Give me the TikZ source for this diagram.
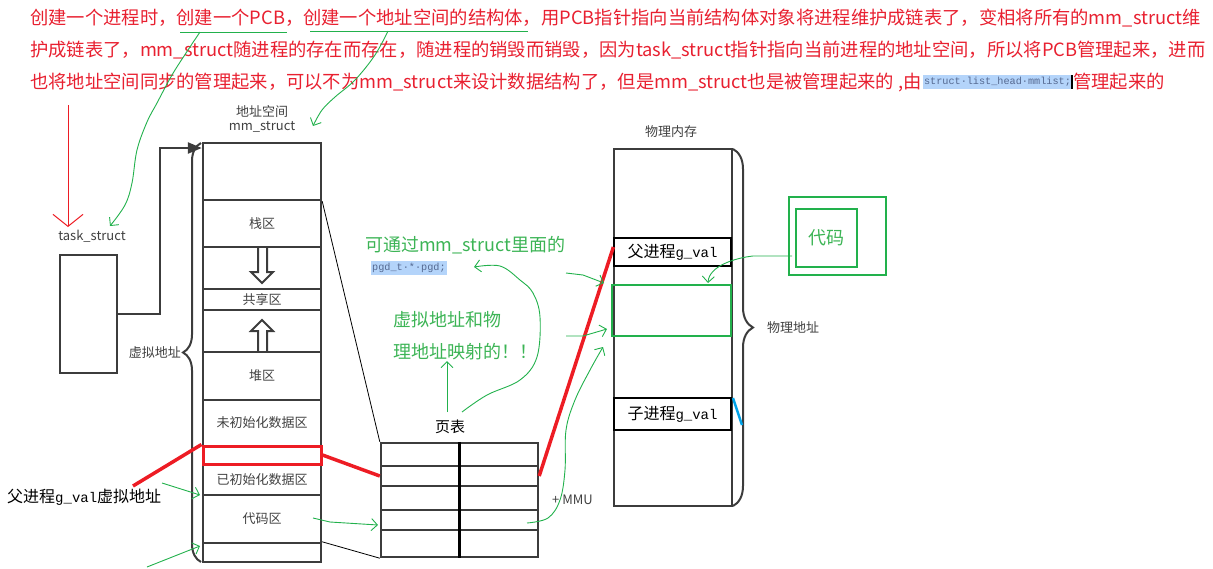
\documentclass[tikz,border=0pt]{standalone}
\usepackage{fontspec}
\setmainfont{Noto Sans CJK SC}
\setmonofont{Liberation Mono}
\usepackage{tikz}
\usetikzlibrary{calc, arrows.meta}
\usetikzlibrary{positioning, decorations.pathreplacing}
\definecolor{tred}{RGB}{232,32,48}
\definecolor{pred}{RGB}{237,28,36}
\definecolor{pgreen}{RGB}{34,177,76}
\definecolor{tgreen}{RGB}{60,180,85}
\definecolor{dgray}{RGB}{60,60,60}
\definecolor{tgray}{RGB}{64,64,64}
\definecolor{hlblue}{RGB}{180,212,250}
\definecolor{codeblue}{RGB}{85,105,145}
\definecolor{pblue}{RGB}{0,162,232}
\newcommand{\gv}{{\ttfamily\fontsize{14}{16}\selectfont g\_val}}

\begin{document}
\begin{tikzpicture}[x=1pt, y=-1pt,
    headline/.style={text=tred, font=\fontsize{18.3}{20}\selectfont, inner sep=0pt, anchor=west},
    seg/.style={draw=dgray, line width=2.4pt, minimum width=118pt, inner sep=0pt, text=tgray, font=\fontsize{13}{15}\selectfont},
    lbl/.style={text=tgray, font=\fontsize{13}{15}\selectfont, inner sep=1pt},
    cell/.style={draw=dgray, line width=2.4pt, minimum width=157pt, inner sep=0pt},
    slot/.style={draw=black, line width=1.2pt, minimum width=117pt, inner sep=0pt, font=\fontsize{16}{18}\selectfont},
    gtext/.style={text=tgreen, font=\fontsize{18}{20}\selectfont, inner sep=0pt, anchor=west},
    codehl/.style={fill=hlblue, text=codeblue, font=\ttfamily\fontsize{10.2}{12}\selectfont, inner xsep=1pt, inner ysep=2pt},
    hand/.style={draw=pgreen, line width=0.9pt, -{Straight Barb[length=6pt,width=12pt]}},
    gline/.style={draw=pgreen, line width=0.9pt},
    redline/.style={draw=pred, line width=3.5pt},
    curly/.style={decorate, decoration={brace, amplitude=#1}, draw=dgray, line width=2pt}]
    \useasboundingbox (0,0) rectangle (1213,568);

    % the note on top
    \node[headline] (line1) at (30,18) {创建一个进程时，创建一个PCB，创建一个地址空间的结构体，用PCB指针指向当前结构体对象将进程维护成链表了，变相将所有的mm\_struct维};
    \node[headline] (line2) at (30,50) {护成链表了，mm\_struct随进程的存在而存在，随进程的销毁而销毁，因为task\_struct指针指向当前进程的地址空间，所以将PCB管理起来，进而};
    \node[headline] (line3) at (30,82) {也将地址空间同步的管理起来，可以不为mm\_struct来设计数据结构了，但是mm\_struct也是被管理起来的 ,由};
    \node[codehl, right=1pt of line3] (mmlist) {struct·list\_head·mmlist;};
    \node[headline, right=1pt of mmlist] (line3b) {管理起来的};
    \draw[black, line width=1.5pt] (mmlist.north east) -- (mmlist.south east);
    \coordinate (u1a) at (180,32);
    \coordinate (u1b) at (287,32);
    \coordinate (u2a) at (310,31);
    \coordinate (u2b) at (528,31);
    \draw[gline] (u1a) -- (u1b);
    \draw[gline] (u2a) -- (u2b);

    % task_struct
    \node[lbl] (tsl) at (92,236) {task\_struct};
    \node[draw=dgray, line width=2.4pt, minimum width=57pt, minimum height=118pt] (tsbox) at (88.5,314) {};
    \coordinate (rtop) at (68,105);
    \coordinate (rtip) at (68,227);
    \draw[pred, line width=1pt, -{Straight Barb[length=12pt,width=30pt]}] (rtop) -- (rtip);

    % address space
    \node[lbl] (asl) at (262,112) {地址空间};
    \node[lbl] (mml) at (262,127) {mm\_struct};
    \node[seg, minimum height=57pt] (topseg) at (262,171.5) {};
    \node[seg, minimum height=47pt] (stack) at (262,223.5) {栈区};
    \node[seg, minimum height=42pt] (gapA) at (262,268) {};
    \node[seg, minimum height=21pt] (shared) at (262,299.5) {共享区};
    \node[seg, minimum height=42pt] (gapB) at (262,331) {};
    \node[seg, minimum height=48pt] (heap) at (262,376) {堆区};
    \node[seg, minimum height=46pt] (bss) at (262,423) {未初始化数据区};
    \node[seg, minimum height=31pt] (data) at (262,479.5) {已初始化数据区};
    \node[seg, minimum height=48pt] (code) at (262,519) {代码区};
    \node[seg, minimum height=19pt] (botseg) at (262,552.5) {};
    \node[seg, draw=pred, line width=3pt, minimum height=18pt] (gval) at (262,455) {};
    \draw[dgray, line width=2pt] (258,247) -- (258,272) -- (251,272) -- (262,283) -- (273,272) -- (267,272) -- (267,247);
    \draw[dgray, line width=2pt] (258,352) -- (258,331) -- (251,331) -- (262,320) -- (273,331) -- (267,331) -- (267,352);
    \draw[curly=18] (201,562) -- (201,143);
    \node[lbl, anchor=east] (vaddr) at (182,353) {虚拟地址};
    \coordinate (turn) at (160,148);
    \draw[dgray, line width=2.4pt, -{Triangle[length=14pt,width=11pt]}] (tsbox.east) -| (turn) -- (turn -| topseg.west);

    % page table
    \node[font=\fontsize{15}{17}\selectfont] (ptl) at (450,427) {页表};
    \node[cell, minimum height=23pt] (r1) at (459.5,454.5) {};
    \node[cell, minimum height=20pt] (r2) at (459.5,476) {};
    \node[cell, minimum height=24pt] (r3) at (459.5,498) {};
    \node[cell, minimum height=20pt] (r4) at (459.5,520) {};
    \node[cell, minimum height=27pt] (r5) at (459.5,543.5) {};
    \draw[black, line width=3.5pt] (r1.north) -- (r5.south);
    \draw[black, line width=0.8pt] (topseg.south east) -- (r1.north west);
    \draw[black, line width=0.8pt] (botseg.north east) -- (r5.south west);
    \node[lbl, anchor=west] (mmu) at (551,500) {+ MMU};

    % physical memory
    \node[lbl] (pml) at (671,132) {物理内存};
    \node[seg, minimum height=357pt] (phys) at (673,327.5) {};
    \node[slot, minimum height=28pt] (pval) at (672.5,252) {父进程\gv};
    \node[draw=pgreen, line width=1.2pt, minimum width=119pt, minimum height=51pt, inner sep=0pt] (gbox) at (671.5,310.5) {};
    \node[slot, minimum height=32pt] (cval) at (672.5,414) {子进程\gv};
    \draw[curly=20] (733,149) -- (733,506);
    \node[lbl, anchor=west] (paddr) at (766,328) {物理地址};
    \draw[pblue, line width=2.5pt] (733,398) -- (742,425);
    \node[draw=pgreen, line width=1.2pt, minimum width=97pt, minimum height=78pt, inner sep=0pt] (outer) at (837.5,236) {};
    \node[draw=pgreen, line width=1.2pt, minimum width=61pt, minimum height=58pt, text=tgreen, font=\fontsize{18}{20}\selectfont] (inner) at (826.5,238) {代码};

    % red mapping
    \node[font=\fontsize{16}{18}\selectfont, anchor=west, inner sep=0pt] (vlab) at (7,497) {父进程\gv 虚拟地址};
    \coordinate (vstart) at (133,486);
    \draw[redline] (vstart) -- (gval.north west);
    \draw[redline] (gval.east) -- (r2.west);
    \draw[redline] (r2.east) -- ($(pval.west)+(0,-5)$);

    % green notes
    \node[gtext] (gt1) at (365,245) {可通过mm\_struct里面的};
    \node[codehl, anchor=west] (pgd) at (371,268) {pgd\_t·*·pgd;};
    \node[gtext] (gt2) at (393,320) {虚拟地址和物};
    \node[gtext] (gt3) at (393,352) {理地址映射的！！};
    \draw[hand] plot[smooth, tension=0.6] coordinates {(200,32) (188,50) (172,75) (157,103) (147,122) (137,150) (132,183) (125,205) (110,226)};
    \draw[hand] plot[smooth, tension=0.6] coordinates {(388,31) (375,55) (355,80) (335,97) (322,110) (313,126)};
    \draw[hand] (447,412) -- (447,361);
    \draw[hand] plot[smooth, tension=0.6] coordinates {(462,412) (487,395) (520,380) (537,357) (540,317) (533,293) (520,280) (500,266) (474,267)};
    \draw[hand] (566,273) -- (583,275) -- (604,283);
    \draw[hand] (566,336) -- (583,336) -- (607,329);
    \draw[hand] plot[smooth, tension=0.6] coordinates {(527,523) (548,518) (560,500) (565,470) (566,430) (575,400) (590,370) (603,347)};
    \draw[hand] (162,483) -- (200,495);
    \draw[hand] (147,567) -- (200,546);
    \draw[hand] (313,518) -- (330,522) -- (378,525);
    \coordinate (kstart) at (792,256);
    \draw[hand] (kstart) -- (753,256) .. controls (735,258) and (709,266) .. (708,283);
\end{tikzpicture}
\end{document}
